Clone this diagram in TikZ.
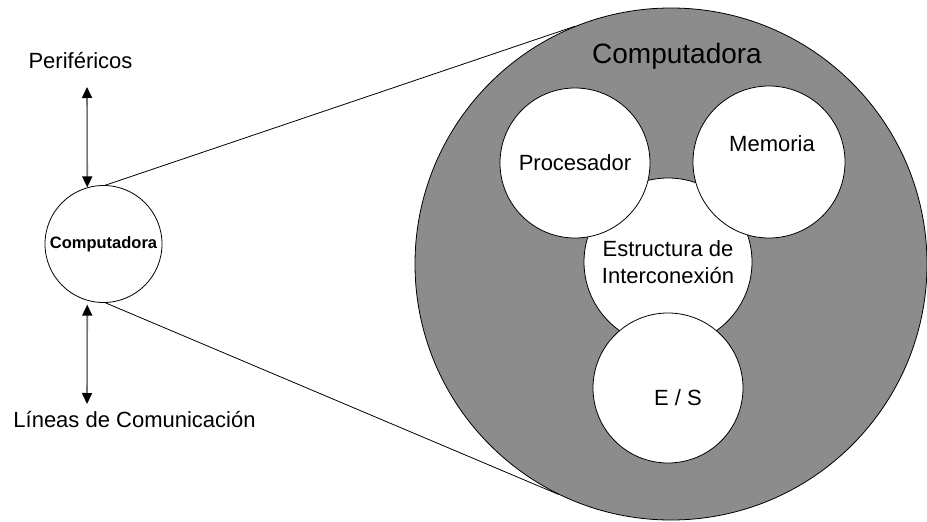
\documentclass[tikz,border=0pt]{standalone}
\usepackage{fontspec}
\setmainfont{Liberation Sans}
\usetikzlibrary{arrows.meta, positioning, calc}
\tikzset{
  unit/.style={
    circle, draw=black, line width=0.8pt, fill=white,
    minimum size=#1, inner sep=0pt,
    align=center, font=\fontsize{22}{27}\selectfont
  },
  txt/.style={anchor=base, font=\fontsize{22}{27}\selectfont},
  bidir/.style={{Triangle[length=11pt,width=10pt,color=black]}-{Triangle[length=11pt,width=10pt,color=black]},
    line width=1.6pt, draw=black!55},
  zoomline/.style={line width=0.8pt, draw=black}
}
\begin{document}
\begin{tikzpicture}[x=1pt, y=-1pt]
  \useasboundingbox (0,0) rectangle (927,522);

  % vista de la computadora por dentro
  \node[unit=512, fill=black!45] (sys) at (671,264) {};
  \node[unit=168] (bus) at (668,262) {Estructura de\\Interconexi\'on};
  \node[unit=150] (cpu) at (575,163) {Procesador};
  \node[unit=152, label={[txt, anchor=center, xshift=3pt, yshift=18pt]center:Memoria}]
    (mem) at (769,162) {};
  \node[unit=150, label={[txt, anchor=center, xshift=10pt, yshift=-10pt]center:E / S}]
    (es) at (668,388) {};
  \node[txt, font=\fontsize{28}{32}\selectfont] (systitle) at (677,63) {Computadora};

  % computadora vista desde fuera
  \node[unit=117, font=\fontsize{16.5}{20}\selectfont\bfseries] (comp) at (103.5,244) {Computadora};
  \node[txt] (peri) at (80.5,68) {Perif\'ericos};
  \node[txt] (lineas) at (134.5,427) {L\'ineas de Comunicaci\'on};
  \coordinate (pt) at (87,87);
  \coordinate (pb) at (87,404);

  \draw[bidir] (pt) -- (comp.106);
  \draw[bidir] ([yshift=-4pt]comp.-106) -- (pb);
  \draw[zoomline] (comp.88) -- (sys.112);
  \draw[zoomline] (comp.-88) -- (sys.244);
\end{tikzpicture}
\end{document}
